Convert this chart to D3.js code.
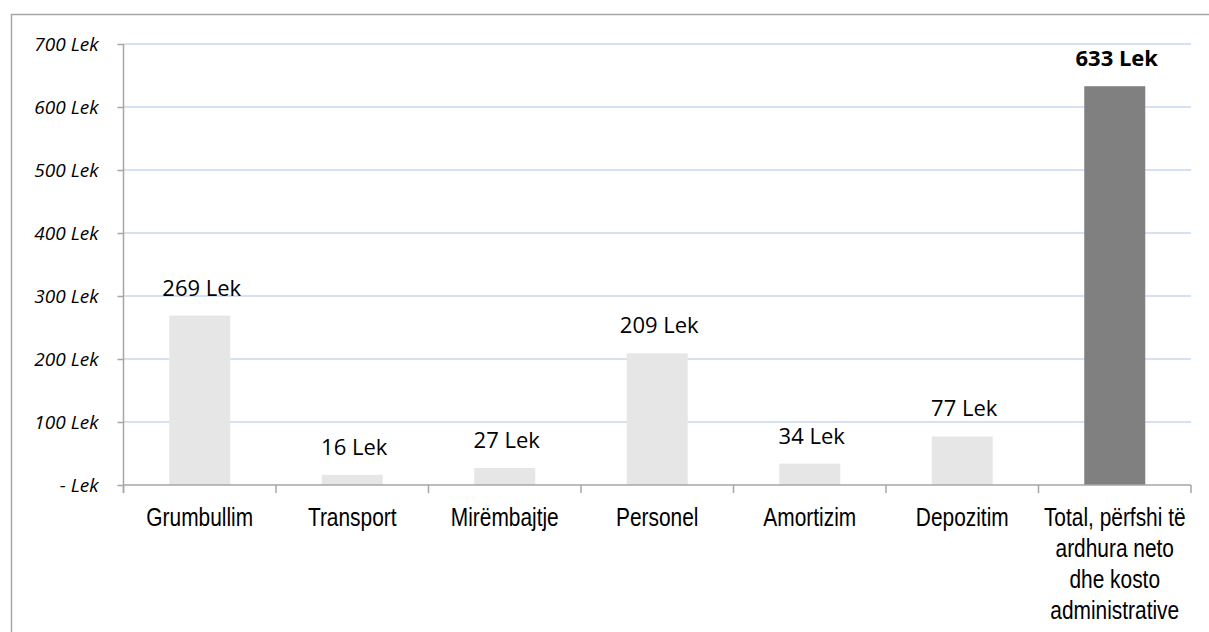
<!DOCTYPE html>
<html>
<head>
<meta charset="utf-8">
<script src="https://cdn.jsdelivr.net/npm/d3@7"></script>
<style>
  html, body { margin: 0; padding: 0; background: #ffffff; }
  svg { display: block; }
</style>
</head>
<body>
<svg id="chart" width="1209" height="632"></svg>
<script>
// Cost components per unit, in Lek
const categories = [
  "Grumbullim",
  "Transport",
  "Mirëmbajtje",
  "Personel",
  "Amortizim",
  "Depozitim",
  "Total, përfshi të\nardhura neto\ndhe kosto\nadministrative"
];
const values = [269, 16, 27, 209, 34, 77, 633];
const totalIndex = 6;
const yTicks = [0, 100, 200, 300, 400, 500, 600, 700];
const yTickLabels = ["- Lek", "100 Lek", "200 Lek", "300 Lek", "400 Lek", "500 Lek", "600 Lek", "700 Lek"];

const svg = d3.select("#chart");

const plot = { left: 123.5, right: 1191, top: 44, bottom: 485 };

const x = d3.scaleBand()
  .domain(categories)
  .range([plot.left, plot.right])
  .paddingInner(0.6)
  .paddingOuter(0.3);

const y = d3.scaleLinear()
  .domain([0, 700])
  .range([plot.bottom, plot.top]);

// Outer frame (top and left edges)
svg.append("path")
  .attr("d", "M11.5,1209 L11.5,14.5 L1209,14.5")
  .attr("fill", "none")
  .attr("stroke", "#a6a6a6")
  .attr("stroke-width", 1.5);

// Horizontal gridlines
svg.append("g")
  .selectAll("line")
  .data(yTicks.filter(d => d > 0))
  .join("line")
  .attr("x1", plot.left)
  .attr("x2", plot.right)
  .attr("y1", d => y(d))
  .attr("y2", d => y(d))
  .attr("stroke", "#c6d9f1")
  .attr("stroke-width", 1.5);

// Y axis
const yAxis = d3.axisLeft(y)
  .tickValues(yTicks)
  .tickSize(6)
  .tickPadding(19)
  .tickFormat((d, i) => yTickLabels[i]);

const gy = svg.append("g")
  .attr("transform", `translate(${plot.left},0)`)
  .call(yAxis);
gy.select(".domain").remove();
gy.append("line")
  .attr("x1", 0).attr("x2", 0)
  .attr("y1", plot.top).attr("y2", plot.bottom + 8)
  .attr("stroke", "#a6a6a6").attr("stroke-width", 1.5);
gy.selectAll(".tick line").attr("stroke", "#a6a6a6").attr("stroke-width", 1.5);
gy.selectAll(".tick text")
  .attr("fill", "#000")
  .style("font-family", "'Open Sans', sans-serif")
  .style("font-style", "italic")
  .style("font-size", "19px");

// Bars
svg.append("g")
  .selectAll("rect")
  .data(values)
  .join("rect")
  .attr("x", (d, i) => x(categories[i]))
  .attr("width", x.bandwidth())
  .attr("y", d => y(d))
  .attr("height", d => y(0) - y(d))
  .attr("fill", (d, i) => i === totalIndex ? "#808080" : "#e6e6e6");

// X axis with category boundary ticks
const gx = svg.append("g");
gx.append("line")
  .attr("x1", plot.left).attr("x2", plot.right)
  .attr("y1", plot.bottom).attr("y2", plot.bottom)
  .attr("stroke", "#a6a6a6").attr("stroke-width", 1.5);
const boundaries = d3.range(categories.length + 1).map(i => plot.left + i * (plot.right - plot.left) / categories.length);
gx.selectAll("line.tick")
  .data(boundaries)
  .join("line")
  .attr("class", "tick")
  .attr("x1", d => d).attr("x2", d => d)
  .attr("y1", plot.bottom).attr("y2", plot.bottom + 8)
  .attr("stroke", "#a6a6a6").attr("stroke-width", 1.5);

// Category labels, set in a condensed sans
const catLabels = svg.append("g")
  .selectAll("text")
  .data(categories)
  .join("text")
  .attr("transform", d => `translate(${x(d) + x.bandwidth() / 2},526) scale(0.82,1)`)
  .attr("text-anchor", "middle")
  .attr("fill", "#000")
  .style("font-family", "'Liberation Sans', Arial, sans-serif")
  .style("font-size", "25.5px");
catLabels.each(function(d) {
  d3.select(this).selectAll("tspan")
    .data(d.split("\n"))
    .join("tspan")
    .attr("x", 0)
    .attr("dy", (l, i) => i === 0 ? 0 : 31)
    .text(l => l);
});

// Value labels
svg.append("g")
  .selectAll("text")
  .data(values)
  .join("text")
  .attr("x", (d, i) => x(categories[i]) + x.bandwidth() / 2 + 2)
  .attr("y", d => y(d) - 20)
  .attr("text-anchor", "middle")
  .attr("fill", "#000")
  .style("font-family", "'Open Sans', sans-serif")
  .style("font-size", "22px")
  .style("font-weight", (d, i) => i === totalIndex ? "700" : "400")
  .text(d => `${d} Lek`);
</script>
</body>
</html>
